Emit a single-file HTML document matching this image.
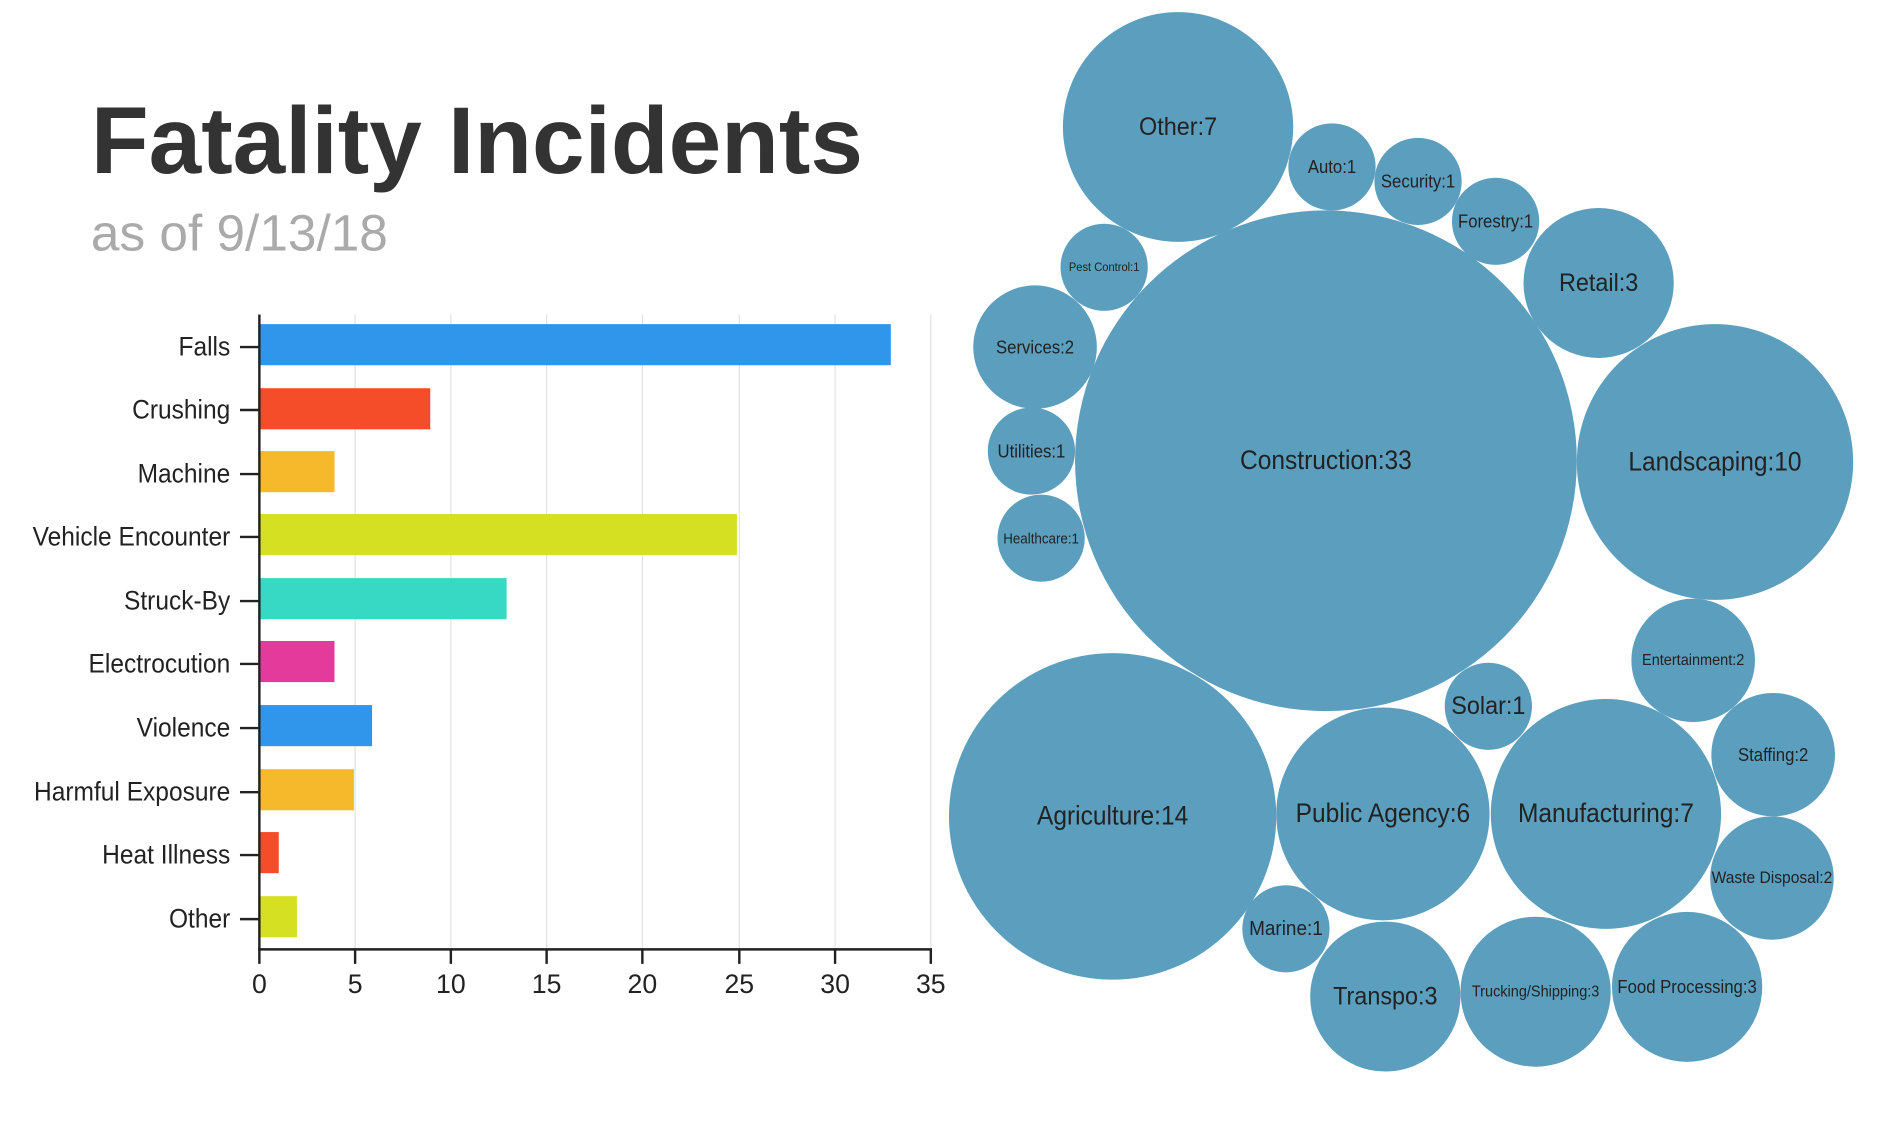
<!DOCTYPE html>
<html><head><meta charset="utf-8"><style>
html,body{margin:0;padding:0;background:#fff;}
svg{display:block;}
text{font-family:"Liberation Sans Narrow","Liberation Sans",sans-serif;}
.t{font-family:"Liberation Sans",sans-serif;}
.b text{fill:#222;text-anchor:middle;dominant-baseline:central;}
</style></head><body>
<svg width="1898" height="1132" viewBox="0 0 1566 936" preserveAspectRatio="none" xmlns="http://www.w3.org/2000/svg">
<rect width="1566" height="936" fill="#fff"/>
<text class="t" x="75" y="143" font-size="78" font-weight="bold" fill="#333" textLength="637" lengthAdjust="spacingAndGlyphs">Fatality Incidents</text>
<text class="t" x="75" y="207" font-size="42" fill="#aaa" textLength="245" lengthAdjust="spacingAndGlyphs">as of 9/13/18</text>
<g stroke="#e2e2e2" stroke-width="1">
<line x1="293" y1="260" x2="293" y2="785"/><line x1="372" y1="260" x2="372" y2="785"/>
<line x1="451" y1="260" x2="451" y2="785"/><line x1="530" y1="260" x2="530" y2="785"/>
<line x1="610" y1="260" x2="610" y2="785"/><line x1="689" y1="260" x2="689" y2="785"/>
<line x1="768" y1="260" x2="768" y2="785"/>
</g>
<g>
<rect x="214" y="268" width="521" height="34" fill="#3096ec"/>
<rect x="214" y="321" width="141" height="34" fill="#f54d2a"/>
<rect x="214" y="373" width="62" height="34" fill="#f6b92b"/>
<rect x="214" y="425" width="394" height="34" fill="#d6e022"/>
<rect x="214" y="478" width="204" height="34" fill="#38d9c4"/>
<rect x="214" y="530" width="62" height="34" fill="#e33a9c"/>
<rect x="214" y="583" width="93" height="34" fill="#3096ec"/>
<rect x="214" y="636" width="78" height="34" fill="#f6b92b"/>
<rect x="214" y="688" width="16" height="34" fill="#f54d2a"/>
<rect x="214" y="741" width="31" height="34" fill="#d6e022"/>
</g>
<g stroke="#222" stroke-width="2">
<line x1="214" y1="260" x2="214" y2="786"/><line x1="213" y1="785" x2="769" y2="785"/>
<line x1="198" y1="287" x2="214" y2="287"/><line x1="198" y1="339" x2="214" y2="339"/>
<line x1="198" y1="392" x2="214" y2="392"/><line x1="198" y1="444" x2="214" y2="444"/>
<line x1="198" y1="497" x2="214" y2="497"/><line x1="198" y1="549" x2="214" y2="549"/>
<line x1="198" y1="602" x2="214" y2="602"/><line x1="198" y1="655" x2="214" y2="655"/>
<line x1="198" y1="707" x2="214" y2="707"/><line x1="198" y1="760" x2="214" y2="760"/>
<line x1="214" y1="785" x2="214" y2="797"/><line x1="293" y1="785" x2="293" y2="797"/>
<line x1="372" y1="785" x2="372" y2="797"/><line x1="451" y1="785" x2="451" y2="797"/>
<line x1="530" y1="785" x2="530" y2="797"/><line x1="610" y1="785" x2="610" y2="797"/>
<line x1="689" y1="785" x2="689" y2="797"/><line x1="768" y1="785" x2="768" y2="797"/>
</g>
<g transform="translate(190,0) scale(0.92,1)" font-size="22" fill="#222" text-anchor="end" dominant-baseline="central">
<text x="0" y="287">Falls</text><text x="0" y="339">Crushing</text>
<text x="0" y="392">Machine</text><text x="0" y="444">Vehicle Encounter</text>
<text x="0" y="497">Struck-By</text><text x="0" y="549">Electrocution</text>
<text x="0" y="602">Violence</text><text x="0" y="655">Harmful Exposure</text>
<text x="0" y="707">Heat Illness</text><text x="0" y="760">Other</text>
</g>
<g font-size="22" fill="#222" text-anchor="middle">
<text x="214" y="821">0</text><text x="293" y="821">5</text><text x="372" y="821">10</text>
<text x="451" y="821">15</text><text x="530" y="821">20</text><text x="610" y="821">25</text>
<text x="689" y="821">30</text><text x="768" y="821">35</text>
</g>
<g class="b" fill="#5b9ebd">
<circle cx="972" cy="105" r="95"/><circle cx="1099" cy="138" r="36"/>
<circle cx="1170" cy="150" r="36"/><circle cx="1234" cy="183" r="36"/>
<circle cx="911" cy="221" r="36"/><circle cx="1319" cy="234" r="62"/>
<circle cx="854" cy="287" r="51"/><circle cx="1094" cy="381" r="207"/>
<circle cx="1415" cy="382" r="114"/><circle cx="851" cy="373" r="36"/>
<circle cx="859" cy="445" r="36"/><circle cx="1397" cy="546" r="51"/>
<circle cx="1228" cy="584" r="36"/><circle cx="1463" cy="624" r="51"/>
<circle cx="918" cy="675" r="135"/><circle cx="1141" cy="673" r="88"/>
<circle cx="1325" cy="673" r="95"/><circle cx="1462" cy="726" r="51"/>
<circle cx="1061" cy="768" r="36"/><circle cx="1143" cy="824" r="62"/>
<circle cx="1267" cy="820" r="62"/><circle cx="1392" cy="816" r="62"/>
<text transform="translate(972,105) scale(.92,1)" font-size="21">Other:7</text>
<text transform="translate(1099,138) scale(.92,1)" font-size="15">Auto:1</text>
<text transform="translate(1170,150) scale(.92,1)" font-size="15">Security:1</text>
<text transform="translate(1234,183) scale(.92,1)" font-size="15">Forestry:1</text>
<text transform="translate(911,221) scale(.92,1)" font-size="10">Pest Control:1</text>
<text transform="translate(1319,234) scale(.92,1)" font-size="21">Retail:3</text>
<text transform="translate(854,287) scale(.92,1)" font-size="15">Services:2</text>
<text transform="translate(1094,381) scale(.92,1)" font-size="22">Construction:33</text>
<text transform="translate(1415,382) scale(.92,1)" font-size="22">Landscaping:10</text>
<text transform="translate(851,373) scale(.92,1)" font-size="15">Utilities:1</text>
<text transform="translate(859,445) scale(.92,1)" font-size="12">Healthcare:1</text>
<text transform="translate(1397,546) scale(.92,1)" font-size="13">Entertainment:2</text>
<text transform="translate(1228,584) scale(.92,1)" font-size="21">Solar:1</text>
<text transform="translate(1463,624) scale(.92,1)" font-size="15">Staffing:2</text>
<text transform="translate(918,675) scale(.92,1)" font-size="22">Agriculture:14</text>
<text transform="translate(1141,673) scale(.92,1)" font-size="22">Public Agency:6</text>
<text transform="translate(1325,673) scale(.92,1)" font-size="22">Manufacturing:7</text>
<text transform="translate(1462,726) scale(.92,1)" font-size="14">Waste Disposal:2</text>
<text transform="translate(1061,768) scale(.92,1)" font-size="17">Marine:1</text>
<text transform="translate(1143,824) scale(.92,1)" font-size="21">Transpo:3</text>
<text transform="translate(1267,820) scale(.92,1)" font-size="13">Trucking/Shipping:3</text>
<text transform="translate(1392,816) scale(.92,1)" font-size="15">Food Processing:3</text>
</g>
</svg>
</body></html>
